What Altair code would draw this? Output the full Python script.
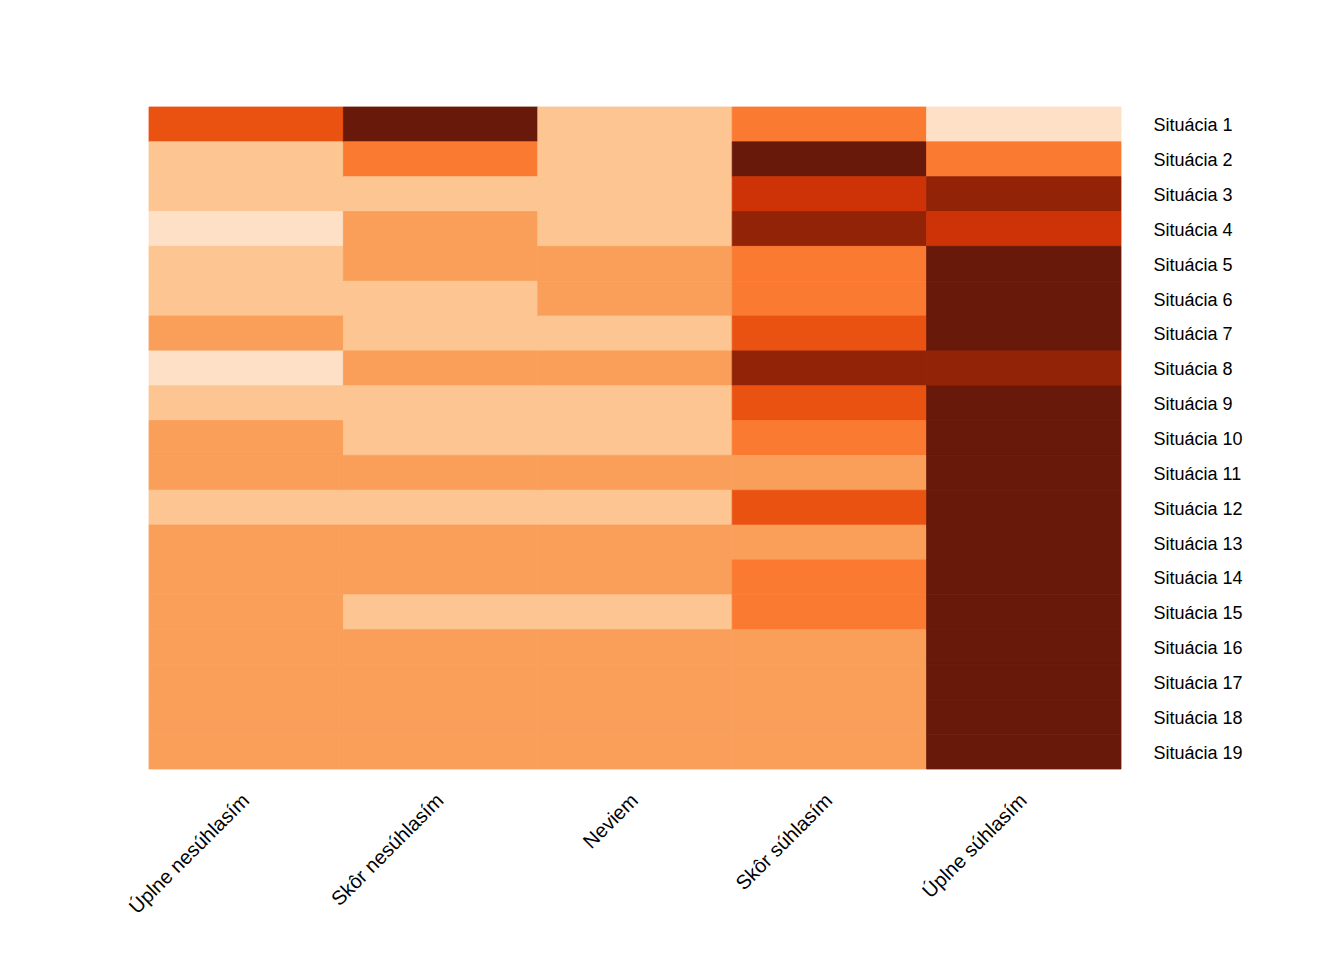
import altair as alt
import pandas as pd

answers = ["Úplne nesúhlasím", "Skôr nesúhlasím", "Neviem", "Skôr súhlasím", "Úplne súhlasím"]
situations = [f"Situácia {i}" for i in range(1, 20)]

# colour level per cell (0 = lightest, 7 = darkest), one list per answer column
lvl_uplne_nes = [4, 1, 1, 0, 1, 1, 2, 0, 1, 2, 2, 1, 2, 2, 2, 2, 2, 2, 2]
lvl_skor_nes  = [7, 3, 1, 2, 2, 1, 1, 2, 1, 1, 2, 1, 2, 2, 1, 2, 2, 2, 2]
lvl_neviem    = [1, 1, 1, 1, 2, 2, 1, 2, 1, 1, 2, 1, 2, 2, 1, 2, 2, 2, 2]
lvl_skor_suh  = [3, 7, 5, 6, 3, 3, 4, 6, 4, 3, 2, 4, 2, 3, 3, 2, 2, 2, 2]
lvl_uplne_suh = [0, 3, 6, 5, 7, 7, 7, 6, 7, 7, 7, 7, 7, 7, 7, 7, 7, 7, 7]

level_colors = ["#fde0c5", "#fcc591", "#fa9f5a", "#fb7a31", "#ea5212",
                "#cd3306", "#932306", "#691909"]

columns = [lvl_uplne_nes, lvl_skor_nes, lvl_neviem, lvl_skor_suh, lvl_uplne_suh]
rows = []
for a, col in zip(answers, columns):
    for s, v in zip(situations, col):
        rows.append({"answer": a, "situation": s, "level": v})
df = pd.DataFrame(rows)

color_scale = alt.Scale(domain=list(range(8)), range=level_colors)

chart = alt.Chart(df).mark_rect(strokeWidth=0.8).encode(
    x=alt.X("answer:N", sort=answers, title=None,
            axis=alt.Axis(labelAngle=-45, labelAlign="right", labelBaseline="middle",
                          labelPadding=28, ticks=False, domain=False,
                          labelFontSize=20, labelFont="Liberation Sans",
                          labelColor="#000000")),
    y=alt.Y("situation:N", sort=situations, title=None,
            axis=alt.Axis(orient="right", labelPadding=32, ticks=False, domain=False,
                          labelFontSize=18, labelFont="Liberation Sans", labelOffset=2,
                          labelAlign="left", labelColor="#000000")),
    color=alt.Color("level:O", scale=color_scale, legend=None),
    stroke=alt.Stroke("level:O", scale=color_scale, legend=None),
).properties(
    width=972, height=662,
    padding={"left": 141, "top": 99, "right": 150, "bottom": 150},
    autosize=alt.AutoSizeParams(type="none"),
).configure_view(stroke=None).configure_scale(bandPaddingInner=0, bandPaddingOuter=0)

chart.save("out.html", embed_options={"renderer": "svg", "actions": False})
